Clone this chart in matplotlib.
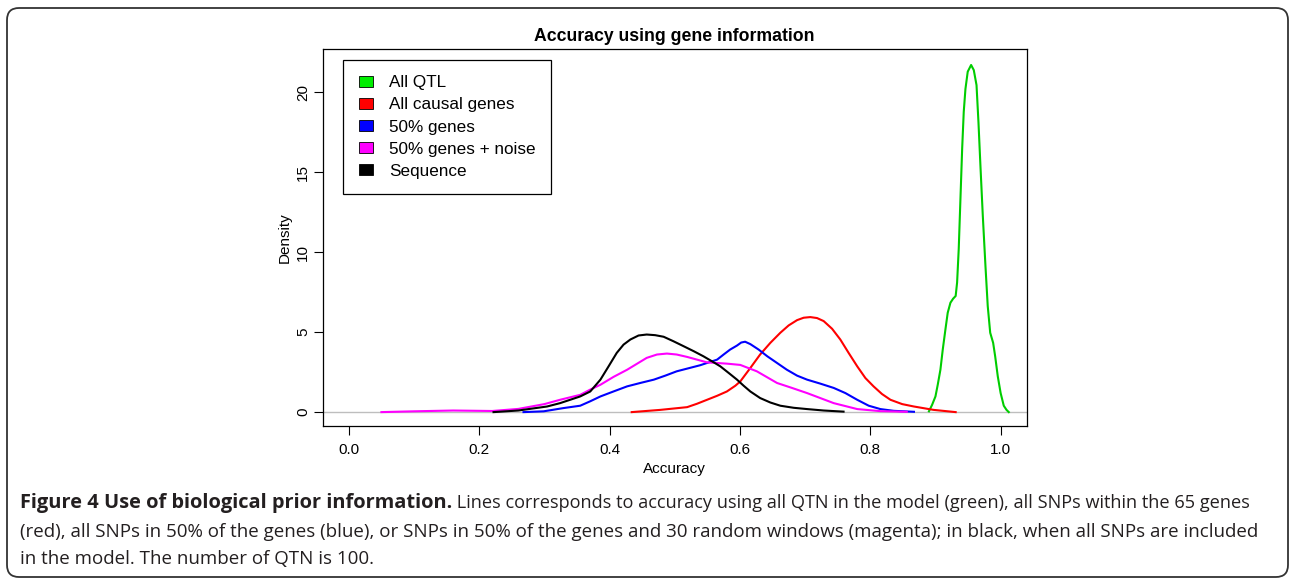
import matplotlib
matplotlib.use("Agg")
from matplotlib import pyplot as plt
from matplotlib.patches import Patch, FancyBboxPatch

# density curves (accuracy, density)
qtl_x = [0.890, 0.8949, 0.900, 0.9035, 0.9076, 0.9112, 0.9153, 0.9188, 0.923, 0.9271,
         0.931, 0.9332, 0.9357, 0.9383, 0.941, 0.9434, 0.946, 0.9495, 0.9547, 0.9588,
         0.963, 0.966, 0.969, 0.9726, 0.9767, 0.9802, 0.984, 0.9885, 0.9916, 0.9956,
         1.0, 1.0048, 1.009, 1.0125]
qtl_y = [0.05, 0.46, 0.98, 1.71, 2.65, 3.91, 5.17, 6.21, 6.84, 7.09,
         7.26, 8.1, 10.2, 13.3, 16.5, 18.77, 20.2, 21.28, 21.7, 21.38,
         20.44, 18.1, 15.4, 12.3, 9.14, 6.63, 4.96, 4.33, 3.49, 2.24,
         1.19, 0.40, 0.14, 0.0]

causal_x = [0.434, 0.478, 0.519, 0.534, 0.5495, 0.565, 0.580, 0.593, 0.6006, 0.616,
            0.631, 0.6467, 0.662, 0.6748, 0.6877, 0.6978, 0.708, 0.7183, 0.7285, 0.7414,
            0.754, 0.7668, 0.780, 0.7925, 0.805, 0.818, 0.831, 0.849, 0.867, 0.897,
            0.931]
causal_y = [0.0, 0.14, 0.31, 0.52, 0.77, 1.02, 1.29, 1.65, 1.92, 2.76,
            3.60, 4.33, 4.96, 5.42, 5.75, 5.90, 5.94, 5.88, 5.69, 5.21,
            4.54, 3.70, 2.86, 2.13, 1.61, 1.13, 0.77, 0.50, 0.35, 0.14,
            0.0]

half_x = [0.268, 0.299, 0.329, 0.355, 0.370, 0.386, 0.406, 0.427, 0.447, 0.468,
          0.4855, 0.503, 0.539, 0.565, 0.575, 0.585, 0.5955, 0.602, 0.608, 0.616,
          0.6287, 0.642, 0.657, 0.672, 0.6877, 0.703, 0.7234, 0.744, 0.7618, 0.780,
          0.7976, 0.8155, 0.836, 0.867]
half_y = [0.0, 0.05, 0.25, 0.40, 0.67, 0.98, 1.29, 1.61, 1.82, 2.03,
          2.28, 2.55, 2.93, 3.28, 3.60, 3.91, 4.16, 4.35, 4.40, 4.25,
          3.91, 3.49, 3.07, 2.65, 2.28, 2.03, 1.78, 1.51, 1.19, 0.77,
          0.40, 0.19, 0.08, 0.02]

noise_x = [0.050, 0.100, 0.160, 0.220, 0.260, 0.300, 0.324, 0.355, 0.370, 0.386,
           0.406, 0.427, 0.457, 0.4727, 0.488, 0.503, 0.519, 0.5495, 0.580, 0.6006,
           0.626, 0.657, 0.680, 0.703, 0.744, 0.780, 0.8155, 0.856]
noise_y = [0.0, 0.05, 0.10, 0.07, 0.20, 0.50, 0.77, 1.08, 1.40, 1.71,
           2.20, 2.65, 3.39, 3.60, 3.66, 3.60, 3.45, 3.11, 3.03, 2.95,
           2.55, 1.82, 1.51, 1.19, 0.56, 0.19, 0.06, 0.02]

seq_x = [0.222, 0.260, 0.304, 0.324, 0.355, 0.3704, 0.386, 0.3985, 0.411, 0.4215,
         0.432, 0.4445, 0.457, 0.470, 0.483, 0.498, 0.5136, 0.529, 0.544, 0.557,
         0.570, 0.5827, 0.5955, 0.6057, 0.616, 0.631, 0.6467, 0.662, 0.6825, 0.703,
         0.7285, 0.759]
seq_y = [0.0, 0.10, 0.35, 0.56, 0.98, 1.29, 2.03, 2.86, 3.70, 4.22,
         4.54, 4.79, 4.85, 4.81, 4.71, 4.43, 4.12, 3.81, 3.49, 3.18,
         2.86, 2.45, 2.03, 1.65, 1.29, 0.88, 0.60, 0.40, 0.27, 0.19,
         0.10, 0.03]

labels = ["All QTL", "All causal genes", "50% genes", "50% genes + noise", "Sequence"]
colors = ["#00cd00", "#ff0000", "#0000ff", "#ff00ff", "#000000"]
legend_colors = ["#00ee00", "#ff0000", "#0000ff", "#ff00ff", "#000000"]

caption_bold = "Figure 4 Use of biological prior information."
caption_lines = [
    " Lines corresponds to accuracy using all QTN in the model (green), all SNPs within the 65 genes",
    "(red), all SNPs in 50% of the genes (blue), or SNPs in 50% of the genes and 30 random windows (magenta); in black, when all SNPs are included",
    "in the model. The number of QTN is 100.",
]

plt.rcParams["font.family"] = ["Liberation Sans", "DejaVu Sans"]

fig = plt.figure(figsize=(12.9, 5.79), dpi=100)
ax = fig.add_axes([0.2502, 0.2642, 0.5457, 0.6512])

ax.axhline(0, color="#bebebe", lw=1.0, zorder=1)
series = [(qtl_x, qtl_y), (causal_x, causal_y), (half_x, half_y),
          (noise_x, noise_y), (seq_x, seq_y)]
for (xs, ys), c in zip(series, colors):
    ax.plot(xs, ys, color=c, lw=1.5, solid_joinstyle="round", zorder=2)

ax.set_xlim(-0.04, 1.04)
ax.set_ylim(-0.87, 22.7)
ax.set_xticks([0.0, 0.2, 0.4, 0.6, 0.8, 1.0])
ax.set_xticklabels(["0.0", "0.2", "0.4", "0.6", "0.8", "1.0"])
ax.set_yticks([0, 5, 10, 15, 20])
ax.set_yticklabels(["0", "5", "10", "15", "20"], rotation=90, va="center")
ax.tick_params(axis="x", direction="out", length=6.5, width=0.8, pad=6, labelsize=11)
ax.tick_params(axis="y", direction="out", length=6.5, width=0.8, pad=2.5, labelsize=11)
for s in ax.spines.values():
    s.set_linewidth(0.9)

ax.set_title("Accuracy using gene information", fontsize=12.7, fontweight="bold", pad=6)
ax.set_xlabel("Accuracy", fontsize=11, labelpad=3)
ax.set_ylabel("Density", fontsize=11, labelpad=3)

handles = [Patch(facecolor=c, edgecolor="black", linewidth=0.6) for c in legend_colors]
leg = ax.legend(handles, labels, loc="upper left", bbox_to_anchor=(0.0293, 0.9708),
                borderaxespad=0, fancybox=False, framealpha=1, edgecolor="black",
                fontsize=12.3, handlelength=0.86, handleheight=0.63, handletextpad=0.9,
                labelspacing=0.415, borderpad=0.9)
leg.get_frame().set_linewidth(0.9)

# outer rounded frame
frame = FancyBboxPatch((0.07, 0.02), 12.81, 5.69,
                       boxstyle="round,pad=0,rounding_size=0.12",
                       transform=fig.dpi_scale_trans, fill=False,
                       edgecolor="#333333", linewidth=1.3)
fig.add_artist(frame)

# caption
cap_font = ["Open Sans", "DejaVu Sans"]
x0 = 20 / 1290
ys = [1 - 503 / 579, 1 - 532 / 579, 1 - 559 / 579]
bold = fig.text(x0, ys[0], caption_bold, family=cap_font, fontsize=14.4,
                fontweight="bold", color="#231f20", va="center", ha="left")
fig.canvas.draw()
bb = bold.get_window_extent(fig.canvas.get_renderer())
fig.text(bb.x1 / fig.bbox.width, ys[0], caption_lines[0], family=cap_font,
         fontsize=13.1, color="#231f20", va="center", ha="left")
for line, y in zip(caption_lines[1:], ys[1:]):
    fig.text(x0, y, line, family=cap_font, fontsize=13.5, color="#231f20",
             va="center", ha="left")

fig.savefig("out.png", dpi=100)
plt.close()
